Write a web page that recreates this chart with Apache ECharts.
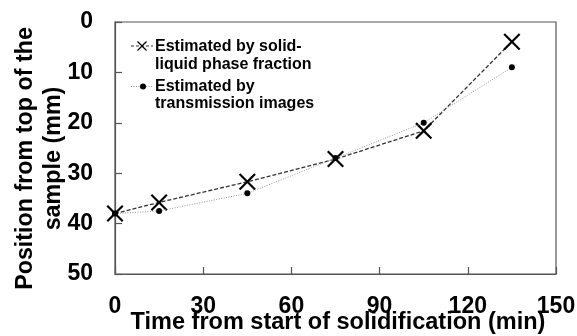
<!DOCTYPE html>
<html>
<head>
<meta charset="utf-8">
<script src="https://cdn.jsdelivr.net/npm/echarts@6/dist/echarts.min.js"></script>
<style>
  html, body { margin: 0; padding: 0; background: #fff; }
  #chart { width: 577px; height: 336px; }
</style>
</head>
<body>
<div id="chart"></div>
<script>
// Solidification front position over time
const timeMin = [0, 15, 45, 75, 105, 135];
const fromPhaseFraction = [38, 35.8, 31.7, 27.2, 21.6, 3.9];
const fromTransmission = [38, 37.5, 34, 27, 20, 9];
const xTicks = [0, 30, 60, 90, 120, 150];
const yTicks = [0, 10, 20, 30, 40, 50];

const xTitle = 'Time from start of solidification (min)';
const yTitle = 'Position from top of the\nsample (mm)';
const seriesNames = ['Estimated by solid-\nliquid phase fraction', 'Estimated by\ntransmission images'];

// filled cross glyph used as the "X" marker (unit box 0..10)
const crossPts = [[0,0.9],[0.9,0],[5,4.1],[9.1,0],[10,0.9],[5.9,5],[10,9.1],[9.1,10],[5,5.9],[0.9,10],[0,9.1],[4.1,5]];
const crossPath = 'path://M' + crossPts.map(p => p.join(',')).join('L') + 'Z';

function crossAt(cx, cy, size) {
  const s = size / 10;
  return crossPts.map(p => [cx + (p[0] - 5) * s, cy + (p[1] - 5) * s]);
}

const FONT = 'Liberation Sans, Arial, sans-serif';

const chart = echarts.init(document.getElementById('chart'));
chart.setOption({
  backgroundColor: '#fff',
  animation: false,
  grid: {
    left: 115, right: 21, top: 22, bottom: 62,
    containLabel: false, outerBoundsMode: 'none',
    show: true, borderColor: '#555', borderWidth: 1.2, backgroundColor: 'transparent'
  },
  xAxis: {
    type: 'value',
    min: xTicks[0], max: xTicks[xTicks.length - 1], interval: 30,
    axisLine: { onZero: false, lineStyle: { color: '#555', width: 1.2 } },
    axisTick: { inside: true, length: 7, lineStyle: { color: '#555', width: 1.2 } },
    axisLabel: { margin: 21, fontFamily: FONT, fontWeight: 'bold', fontSize: 23, color: '#000', showMaxLabel: true, showMinLabel: true },
    splitLine: { show: false }
  },
  yAxis: {
    type: 'value', inverse: true,
    min: yTicks[0], max: yTicks[yTicks.length - 1], interval: 10,
    axisLine: { onZero: false, lineStyle: { color: '#555', width: 1.2 } },
    axisTick: { inside: true, length: 7, lineStyle: { color: '#555', width: 1.2 } },
    axisLabel: { margin: 22, fontFamily: FONT, fontWeight: 'bold', fontSize: 23, color: '#000' },
    splitLine: { show: false }
  },
  graphic: [
    // axis titles
    {
      type: 'text', x: 338, y: 323,
      style: {
        text: xTitle, fontFamily: FONT, fontWeight: 'bold', fontSize: 23.5,
        fill: '#000', align: 'center', verticalAlign: 'middle'
      }
    },
    {
      type: 'text', x: 40, y: 158.5, rotation: Math.PI / 2,
      style: {
        text: yTitle,
        fontFamily: FONT, fontWeight: 'bold', fontSize: 23.3, lineHeight: 28,
        fill: '#000', align: 'center', verticalAlign: 'middle'
      }
    },
    // legend: dashed line with cross
    { type: 'line', shape: { x1: 131, y1: 46, x2: 153, y2: 46 },
      style: { stroke: '#333', lineWidth: 1.2, lineDash: [3, 2] } },
    { type: 'polygon', shape: { points: crossAt(142, 46, 10) }, style: { fill: '#000' } },
    { type: 'text', x: 155, y: 37.5,
      style: { text: seriesNames[0], fontFamily: FONT, fontWeight: 'bold', fontSize: 16, lineHeight: 18,
               fill: '#000', verticalAlign: 'top' } },
    // legend: dotted line with dot
    { type: 'line', shape: { x1: 131, y1: 86.5, x2: 153, y2: 86.5 },
      style: { stroke: '#999', lineWidth: 1, lineDash: [1, 1.5] } },
    { type: 'circle', shape: { cx: 143, cy: 86.5, r: 3 }, style: { fill: '#000' } },
    { type: 'text', x: 155, y: 77.5,
      style: { text: seriesNames[1], fontFamily: FONT, fontWeight: 'bold', fontSize: 16, lineHeight: 17.5,
               fill: '#000', verticalAlign: 'top' } }
  ],
  series: [
    {
      name: seriesNames[0], type: 'line',
      data: timeMin.map((t, i) => [t, fromPhaseFraction[i]]),
      symbol: crossPath, symbolSize: 17,
      itemStyle: { color: '#000' },
      lineStyle: { color: '#333', width: 1.3, type: [4, 2] },
      z: 3
    },
    {
      name: seriesNames[1], type: 'line',
      data: timeMin.map((t, i) => [t, fromTransmission[i]]),
      symbol: 'circle', symbolSize: 6,
      itemStyle: { color: '#000' },
      lineStyle: { color: '#999', width: 1, type: [1, 1.5] },
      z: 4
    }
  ]
});
</script>
</body>
</html>
